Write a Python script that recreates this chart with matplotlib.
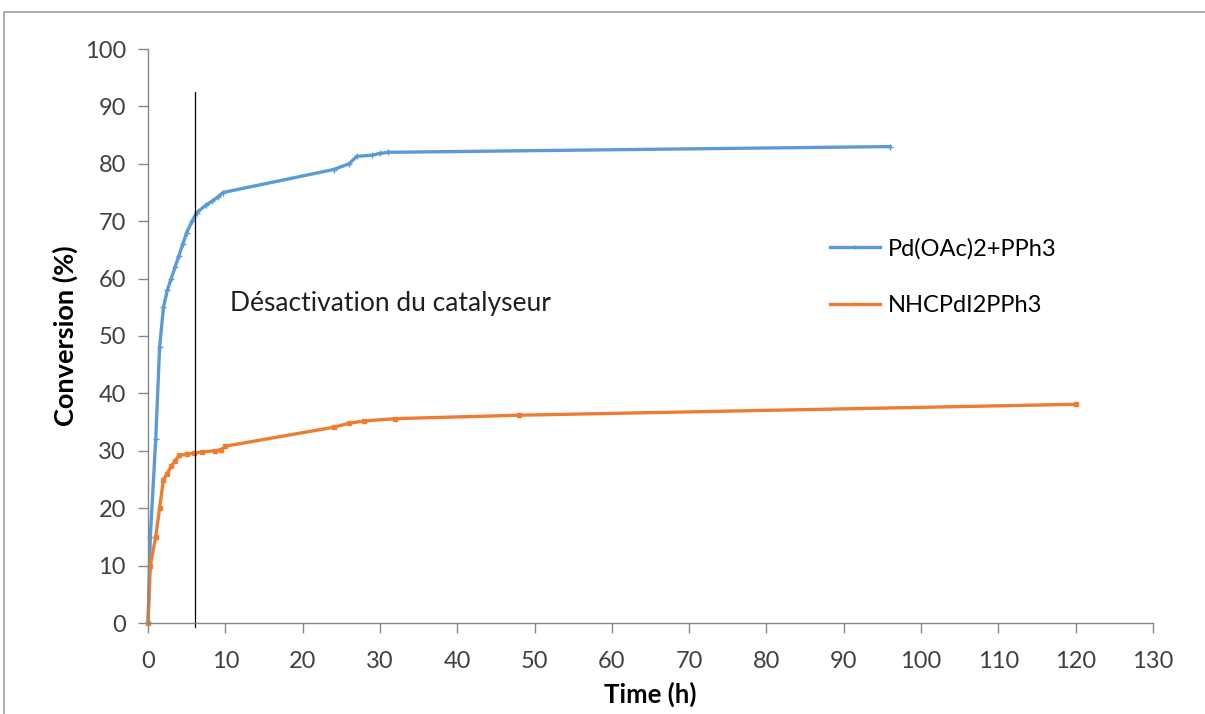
import matplotlib.pyplot as plt
from matplotlib.patches import Rectangle

# Pd(OAc)2 + PPh3
time_pd = [0, 0.3, 1, 1.5, 2, 2.5, 3, 3.5, 4, 4.5, 5, 5.7, 6.3, 7.5, 8.3, 9.1, 9.7,
           24, 26, 27, 29, 30, 31, 96]
conv_pd = [0, 15, 32, 48, 55, 58, 60, 62, 64, 66, 68, 70, 71.5, 72.8, 73.5, 74.3, 75,
           79, 80, 81.3, 81.5, 81.8, 82, 83]

# NHCPdI2PPh3
time_nhc = [0, 0.3, 1, 1.5, 2, 2.5, 3, 3.5, 4, 5, 6, 7, 8.7, 9.5, 10,
            24, 26, 28, 32, 48, 120]
conv_nhc = [0, 10, 15, 20, 25, 26, 27.3, 28.2, 29.2, 29.4, 29.6, 29.8, 30, 30.2, 30.8,
            34.1, 34.8, 35.2, 35.6, 36.2, 38.1]

x_ticks = list(range(0, 131, 10))
y_ticks = list(range(0, 101, 10))
deactivation_time = 6.1
deactivation_top = 92.5

blue = "#5B9BD5"
orange = "#ED7D31"
grey = "#868686"

plt.rcParams["font.family"] = ["Lato", "DejaVu Sans"]

fig = plt.figure(figsize=(12.05, 7.14), dpi=100)
# outer chart-area border
fig.patches.append(Rectangle((4 / 1205, -0.05), 1.1, 1 - 12 / 714 + 0.05,
                             transform=fig.transFigure, fill=False,
                             edgecolor="#a0a0a0", linewidth=1.2))
ax = fig.add_axes([148 / 1205, 1 - 623 / 714, (1153 - 148) / 1205, (623 - 49) / 714])

ax.plot(time_pd, conv_pd, color=blue, linewidth=2.4, marker="+", markersize=4,
        markeredgewidth=1, label="Pd(OAc)2+PPh3", clip_on=False)
ax.plot(time_nhc, conv_nhc, color=orange, linewidth=2.4, marker="s", markersize=2.5,
        label="NHCPdI2PPh3", clip_on=False)

ax.plot([deactivation_time, deactivation_time], [-0.7, deactivation_top],
        color="black", linewidth=0.9, clip_on=False)
ax.text(10.6, 55.7, "Désactivation du catalyseur", fontsize=19, va="center",
        color="#202020")

ax.set_xlim(0, 130)
ax.set_ylim(0, 100)
ax.set_xticks(x_ticks)
ax.set_yticks(y_ticks)
ax.tick_params(axis="both", colors=grey, labelcolor="#404040", labelsize=17,
               length=7, width=1, direction="out")
ax.tick_params(axis="x", pad=13)
ax.tick_params(axis="y", pad=9)

for side in ["top", "right"]:
    ax.spines[side].set_visible(False)
for side in ["left", "bottom"]:
    ax.spines[side].set_color(grey)
    ax.spines[side].set_linewidth(1)

ax.set_xlabel("Time (h)", fontsize=18.5, fontweight="bold", labelpad=7)
ax.set_ylabel("Conversion (%)", fontsize=19.5, fontweight="bold", labelpad=5)

ax.legend(loc="upper left", bbox_to_anchor=(0.6575, 0.708), frameon=False,
          fontsize=17, handlelength=2.1, handletextpad=0.35, labelspacing=1.5,
          markerscale=0.8)

fig.savefig("out.png", dpi=100, facecolor="white")
